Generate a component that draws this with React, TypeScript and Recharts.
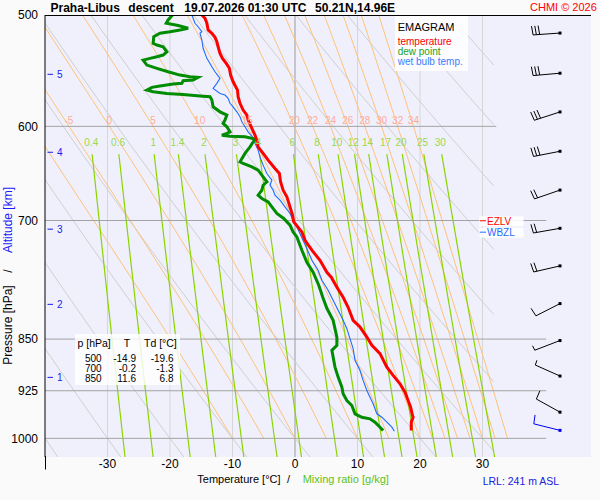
import React from "react";
import { ComposedChart, Line, Scatter, XAxis, YAxis, ReferenceArea } from "recharts";

const FONT = '"Liberation Sans", Arial, Helvetica, sans-serif';

// ─── Colours ────────────────────────────────────────────────────────────────
const C_TEMP = "#ff0000";
const C_DEW = "#008c00";
const C_WET = "#1f6bff";
const C_MIX = "#8cd400";
const C_MIX_TXT = "#9ad94a";
const C_PSEUDO = "#ffc27a";
const C_PSEUDO_TXT = "#ffab98";
const C_DRY = "#cfcfcf";
const C_ISO = "#d6d6d6";
const C_PLINE = "#a3a3a3";
const C_ALT = "#1a1aee";
const PLOT_BG = "#f0f0fc";

const T_MIN = -40;
const T_MAX = 47.36;
const P_TOP = 500;
const P_BOTTOM = 1031;

// ─── Sounding: [pressure hPa, °C] ──────────────────────────────────────────
const temperature: [number, number][] = [
  [500, -14.9], [502.7, -14.4], [506.8, -14.1], [512.4, -13.9], [515.2, -13.3], [518.6, -12.8],
  [522.4, -12.5], [526.7, -12.3], [532.4, -12.0], [536.8, -11.6], [541.2, -11.0], [545.6, -10.5],
  [551.7, -10.3], [557.8, -9.9], [565.4, -9.2], [571.6, -9.1], [577.8, -8.8], [584.2, -8.3],
  [589, -7.7], [593.9, -7.5], [602, -6.9], [608.7, -6.4], [614, -6.1], [620.4, -5.9],
  [627.2, -5.1], [634.1, -4.3], [642.8, -3.2], [648.1, -2.5], [657.1, -2.3], [666.1, -1.9],
  [673.4, -1.3], [684.6, -0.8], [693.9, -0.4], [701.6, -0.2], [713.2, 1.1], [723, 1.6],
  [734.9, 2.7], [747.1, 4.0], [761.9, 5.1], [768.1, 5.8], [780.9, 6.7], [793.7, 7.7],
  [806.8, 8.5], [824.3, 9.3], [833.4, 10.4], [847.2, 11.5], [858.8, 12.3], [870.5, 13.6],
  [889.9, 14.7], [902.1, 15.7], [914.5, 16.8], [927.2, 17.6], [939.9, 18.1], [950.3, 18.5],
  [963.3, 18.8], [966, 18.9], [973.9, 18.6], [987.3, 18.6],
];

const dewPoint: [number, number][] = [
  [500, -19.6], [504.1, -20.3], [506.8, -20.6], [508.7, -18.7], [511, -17.1], [512.4, -18.4],
  [513.9, -20.0], [515.2, -21.6], [518.1, -22.6], [523.7, -22.7], [525.2, -22.1], [526.7, -21.1],
  [531, -20.5], [533.9, -21.1], [535.4, -22.1], [536.8, -23.2], [538.3, -24.3], [542.7, -23.7],
  [545.6, -22.1], [548.7, -20.3], [551.7, -18.4], [553.2, -16.8], [553.7, -15.5], [556.2, -16.3],
  [556.8, -17.9], [559.2, -18.1], [559.9, -19.5], [561.7, -21.6], [562.9, -22.9], [565.4, -23.7],
  [567, -22.7], [568.5, -20.5], [569.4, -17.9], [570.9, -15.2], [571.6, -13.6], [574.7, -13.3],
  [581.1, -13.1], [585.9, -12.0], [589, -10.9], [593.9, -11.2], [597.1, -11.5], [600.4, -10.9],
  [605.4, -10.4], [607, -10.9], [608.7, -11.7], [609.7, -10.4], [610.4, -8.0], [612.7, -6.4],
  [620.4, -7.2], [627.2, -8.0], [635.9, -8.8], [637.6, -8.3], [641.1, -6.9], [644.6, -5.9],
  [651.7, -5.1], [657.1, -4.5], [660.7, -5.1], [666.1, -5.3], [671.6, -5.9], [675.2, -5.3],
  [679, -4.3], [684.6, -3.7], [692, -2.9], [697.7, -1.8], [705.4, -0.8], [713.2, -0.3],
  [719, 0.3], [734.9, 1.1], [749.5, 1.9], [761.9, 2.9], [778.3, 3.8], [795, 4.5],
  [808.2, 5.1], [824.3, 6.1], [847.2, 6.7], [858.8, 6.7], [865.8, 5.9], [875.4, 6.1],
  [889.9, 6.4], [904.6, 6.9], [919.6, 7.5], [929.6, 7.7], [939.9, 8.3], [947.6, 9.1],
  [960.6, 9.6], [966, 10.7], [968.5, 12.0], [973.9, 12.8], [981.9, 13.6], [987.3, 14.1],
];

const wetBulb: [number, number][] = [
  [500, -16.5], [506.8, -16.0], [509.7, -15.5], [513.9, -14.9], [515.2, -15.2], [520.9, -14.9],
  [528, -14.7], [532.4, -14.4], [536.8, -14.1], [544.2, -13.3], [548.7, -12.8], [554.6, -12.0],
  [559.2, -12.5], [563.8, -13.1], [568.5, -12.0], [570, -11.2], [573.1, -10.7], [577.8, -10.4],
  [581.1, -9.9], [585.9, -9.3], [590.7, -8.8], [595.5, -8.5], [600.4, -8.0], [605.4, -7.5],
  [612, -6.6], [617, -6.4], [623.8, -5.9], [630.7, -5.6], [639.3, -5.1], [648.1, -4.5],
  [655.3, -3.7], [660.7, -4.0], [666.1, -3.5], [671.6, -3.2], [677.1, -2.4], [684.6, -1.6],
  [692, -0.8], [699.6, -0.3], [707.4, 0.3], [715, 0.8], [731.3, 1.8], [747.1, 2.7],
  [759.4, 3.7], [771.9, 4.3], [784.7, 5.3], [797.6, 6.1], [810.9, 6.9], [824.3, 7.7],
  [835.6, 8.3], [849.4, 8.8], [863.4, 9.3], [880.1, 9.6], [894.8, 10.4], [909.5, 10.9],
  [924.6, 11.5], [934.8, 12.0], [945, 12.5], [960.6, 13.1], [966, 13.9], [973.9, 14.7],
  [981.9, 15.5], [988.4, 15.9],
];

// wind: pressure, direction (deg), speed (kt)
const winds = [
  { p: 515, dir: 266, spd: 30 }, { p: 550, dir: 265, spd: 30 }, { p: 586, dir: 252, spd: 30 },
  { p: 625, dir: 259, spd: 30 }, { p: 666, dir: 251, spd: 20 }, { p: 709, dir: 260, spd: 20 },
  { p: 754, dir: 257, spd: 20 }, { p: 802, dir: 243, spd: 10 }, { p: 852, dir: 249, spd: 5 },
  { p: 903, dir: 294, spd: 5 }, { p: 958, dir: 299, spd: 10 }, { p: 987, dir: 284, spd: 10, surface: true },
];

const altitudes = [
  { km: 5, p: 551 }, { km: 4, p: 626 }, { km: 3, p: 710 }, { km: 2, p: 803 }, { km: 1, p: 905 },
];

const levelMarks = [
  { name: "EZLV", p: 700.3, color: "#ff0000" },
  { name: "WBZL", p: 713.5, color: "#1f6bff" },
];

// ─── Diagram grid ───────────────────────────────────────────────────────────
const pressureTicks = [500, 600, 700, 850, 925, 1000];
const pressureLines = [600, 700, 850, 925, 1000];
const isotherms = [-30, -20, -10, 0, 10, 20, 30];
const dryAdiabats = [-40, -30, -20, -10, 0, 10, 20, 30, 40, 50, 60, 70, 80, 90];
const pseudoAdiabats = [-10, -5, 0, 5, 10, 15, 20, 22, 24, 26, 28, 30, 32, 34];
const pseudoLabels = [-5, 0, 5, 10, 15, 20, 22, 24, 26, 28, 30, 32, 34];
const mixingRatios = [0.4, 0.6, 1, 1.4, 2, 3, 4, 6, 8, 10, 12, 14, 17, 20, 25, 30];

const tableRows = [
  ["500", "-14.9", "-19.6"],
  ["700", "-0.2", "-1.3"],
  ["850", "11.6", "6.8"],
];

// ─── Thermodynamics for the background lines ────────────────────────────────
const RD = 287.04, CPD = 1005.7, LV = 2.501e6, EPS = 0.622, KAPPA = 0.2857;
const DRY_MAX_T = 31.8;
const MIX_TOP = 628;

const satVap = (tc: number) => 6.112 * Math.exp((17.67 * tc) / (tc + 243.5));
const moistRate = (tk: number, p: number) => {
  const e = satVap(tk - 273.15);
  const rs = (EPS * e) / (p - e);
  return (RD * tk + LV * rs) / (CPD + (LV * LV * rs * EPS) / (RD * tk * tk));
};

function pseudoAdiabat(thw: number) {
  const pts = [{ p: 1000, t: thw }];
  let tk = thw + 273.15;
  for (let p = 1000; p > 500; p -= 25) {
    const n = 4;
    let lnp = Math.log(p);
    const h = (Math.log(p - 25) - lnp) / n;
    for (let i = 0; i < n; i++) {
      const k1 = moistRate(tk, Math.exp(lnp));
      const k2 = moistRate(tk + (h * k1) / 2, Math.exp(lnp + h / 2));
      const k3 = moistRate(tk + (h * k2) / 2, Math.exp(lnp + h / 2));
      const k4 = moistRate(tk + h * k3, Math.exp(lnp + h));
      tk += (h * (k1 + 2 * k2 + 2 * k3 + k4)) / 6;
      lnp += h;
    }
    pts.push({ p: p - 25, t: tk - 273.15 });
  }
  return pts;
}

function dryAdiabat(th: number) {
  const thk = th + 273.15;
  const pEnd = Math.min(P_BOTTOM, 1000 * Math.pow((DRY_MAX_T + 273.15) / thk, 1 / KAPPA));
  if (pEnd <= P_TOP) return [];
  const pts = [];
  const n = 16;
  for (let i = 0; i <= n; i++) {
    const p = P_TOP * Math.pow(pEnd / P_TOP, i / n);
    pts.push({ p, t: thk * Math.pow(p / 1000, KAPPA) - 273.15 });
  }
  return pts;
}

const mixingT = (w: number, p: number) => {
  const x = Math.log((w * p) / (622 + w) / 6.112);
  return (243.5 * x) / (17.67 - x);
};
function mixingLine(w: number) {
  const pts = [];
  const n = 6;
  for (let i = 0; i <= n; i++) {
    const p = MIX_TOP * Math.pow(P_BOTTOM / MIX_TOP, i / n);
    pts.push({ p, t: mixingT(w, p) });
  }
  return pts;
}

const pseudoLines = pseudoAdiabats.map((th) => ({ th, pts: pseudoAdiabat(th) }));
const pseudoLabelData = pseudoLabels.map((th) => {
  const line = pseudoLines.find((l) => l.th === th)!;
  const at600 = line.pts.find((d) => d.p === 600)!;
  return { t: at600.t, p: 600, label: String(th) };
});
const mixingLabelData = mixingRatios.map((w) => ({ t: mixingT(w, 620), p: 620, label: String(w) }));

const toPts = (rows: [number, number][]) => rows.map(([p, t]) => ({ p, t }));

// ─── Shapes ─────────────────────────────────────────────────────────────────
function WindBarb(props: any) {
  const { cx, cy, payload } = props;
  if (cx == null || cy == null) return null;
  const col = payload.surface ? "#0000ee" : "#000000";
  const a = (payload.dir * Math.PI) / 180;
  const ux = Math.sin(a);
  const uy = -Math.cos(a);
  const len = 27;
  const tipX = cx + ux * len;
  const tipY = cy + uy * len;
  const tilt = (6 * Math.PI) / 180;
  const vx = -uy * Math.cos(tilt) + ux * Math.sin(tilt);
  const vy = ux * Math.cos(tilt) + uy * Math.sin(tilt);
  const parts = [<line key="staff" x1={cx} y1={cy} x2={tipX} y2={tipY} />];
  let rest = payload.spd;
  let off = 0;
  let i = 0;
  while (rest >= 10) {
    const bx = tipX - ux * off;
    const by = tipY - uy * off;
    parts.push(<line key={i++} x1={bx} y1={by} x2={bx + vx * 9} y2={by + vy * 9} />);
    off += 3.3;
    rest -= 10;
  }
  if (rest >= 5) {
    const bx = tipX - ux * off;
    const by = tipY - uy * off;
    parts.push(<line key="half" x1={bx} y1={by} x2={bx + vx * 5} y2={by + vy * 5} />);
  }
  return (
    <g stroke={col} strokeWidth={1} fill="none">
      {parts}
      <rect x={cx - 1.5} y={cy - 1.5} width={3} height={3} fill={col} stroke="none" />
    </g>
  );
}

function AltitudeMark(props: any) {
  const { cx, cy, payload } = props;
  return (
    <g>
      <line x1={cx + 2.5} y1={cy} x2={cx + 8} y2={cy} stroke={C_ALT} strokeWidth={1} />
      <text x={cx + 12} y={cy + 3.5} fontSize={10} fill={C_ALT} fontFamily={FONT}>{payload.km}</text>
    </g>
  );
}

function LevelMark(props: any) {
  const { cx, cy, payload } = props;
  return (
    <g>
      <rect x={cx - 0.5} y={cy - 4.5} width={44} height={10} fill="#ffffff" fillOpacity={0.9} />
      <line x1={cx} y1={cy} x2={cx + 6} y2={cy} stroke={payload.color} strokeWidth={1} />
      <text x={cx + 7} y={cy + 4} fontSize={10} fill={payload.color} fontFamily={FONT}>{payload.name}</text>
    </g>
  );
}

const PseudoLabel = (props: any) => (
  <text x={props.cx} y={props.cy - 2.5} textAnchor="middle" fontSize={10} fill={C_PSEUDO_TXT} fontFamily={FONT}>
    {props.payload.label}
  </text>
);
const MixLabel = (props: any) => (
  <text x={props.cx} y={props.cy} textAnchor="middle" fontSize={10} fill={C_MIX_TXT} fontFamily={FONT}>
    {props.payload.label}
  </text>
);

// ─── Chart ──────────────────────────────────────────────────────────────────
export default function App() {
  const thin = { dot: false, activeDot: false, isAnimationActive: false, strokeWidth: 1 } as const;
  return (
    <div style={{ position: "relative", width: 600, height: 500, fontFamily: FONT }}>
      <style>{"body{margin:0;background:#fafafa}"}</style>
      <ComposedChart width={600} height={500} margin={{ top: 15, right: 9, bottom: 13, left: 0 }}>
        <XAxis
          type="number"
          dataKey="t"
          domain={[T_MIN, T_MAX]}
          allowDataOverflow
          ticks={isotherms}
          interval={0}
          height={30}
          axisLine={false}
          tickLine={false}
          tickSize={0}
          tickMargin={2}
          tick={{ fontSize: 12, fill: "#000", fontFamily: FONT }}
        />
        <YAxis
          type="number"
          dataKey="p"
          scale="log"
          domain={[P_TOP, P_BOTTOM]}
          reversed
          allowDataOverflow
          ticks={pressureTicks}
          interval={0}
          width={45}
          axisLine={{ stroke: "#000" }}
          tickLine={false}
          tickSize={0}
          tickMargin={7}
          tick={{ fontSize: 12, fill: "#000", fontFamily: FONT }}
        />
        <ReferenceArea x1={T_MIN} x2={T_MAX} y1={P_TOP} y2={P_BOTTOM} fill={PLOT_BG} fillOpacity={1} stroke="none" />

        {isotherms.map((t) => (
          <Line key={`iso${t}`} data={[{ t, p: P_TOP }, { t, p: P_BOTTOM }]} dataKey="p"
            stroke={t === 0 ? "#9a9a9a" : C_ISO} {...thin} />
        ))}
        {dryAdiabats.map((th) => (
          <Line key={`dry${th}`} data={dryAdiabat(th)} dataKey="p" stroke={C_DRY} {...thin} />
        ))}
        {pseudoLines.map((l) => (
          <Line key={`ps${l.th}`} data={l.pts} dataKey="p" stroke={C_PSEUDO} {...thin} />
        ))}
        {mixingRatios.map((w) => (
          <Line key={`mix${w}`} data={mixingLine(w)} dataKey="p" stroke={C_MIX} {...thin} strokeWidth={1.2} />
        ))}
        {pressureLines.map((p) => (
          <Line key={`pl${p}`} data={[{ t: T_MIN, p }, { t: p === 600 ? 32.2 : 40.2, p }]} dataKey="p"
            stroke={C_PLINE} {...thin} />
        ))}

        <Line data={toPts(wetBulb)} dataKey="p" stroke={C_WET} {...thin} strokeWidth={1.1} />
        <Line data={toPts(dewPoint)} dataKey="p" stroke={C_DEW} {...thin} strokeWidth={3} />
        <Line data={toPts(temperature)} dataKey="p" stroke={C_TEMP} {...thin} strokeWidth={3} />

        <Scatter data={pseudoLabelData} shape={PseudoLabel} isAnimationActive={false} />
        <Scatter data={mixingLabelData} shape={MixLabel} isAnimationActive={false} />
        <Scatter data={altitudes.map((a) => ({ ...a, t: T_MIN }))} shape={AltitudeMark} isAnimationActive={false} />
        <Scatter data={levelMarks.map((m) => ({ ...m, t: 29.6 }))} shape={LevelMark} isAnimationActive={false} />
        <Scatter data={winds.map((w) => ({ ...w, t: 42.4 }))} shape={WindBarb} isAnimationActive={false} />
      </ComposedChart>

      <svg width={600} height={500} style={{ position: "absolute", left: 0, top: 0, pointerEvents: "none" }}
        fontFamily={FONT}>
        {/* title */}
        <g fontSize={12} fontWeight="bold" fill="#000">
          <text x={50.5} y={11.5}>Praha-Libus</text>
          <text x={128.3} y={11.5}>descent</text>
          <text x={184.3} y={11.5}>19.07.2026 01:30 UTC</text>
          <text x={315} y={11.5}>50.21N,14.96E</text>
        </g>
        <text x={530} y={11} fontSize={11} fill="#ff0000">CHMI © 2026</text>
        <line x1={45} y1={15.5} x2={591} y2={15.5} stroke="#000" strokeWidth={1} />
        <line x1={45.5} y1={456} x2={45.5} y2={469.5} stroke="#000" strokeWidth={1} />

        {/* legend */}
        <rect x={395} y={16} width={73} height={55} fill="#ffffff" fillOpacity={0.85} />
        <text x={397.7} y={30.5} fontSize={11} fill="#000">EMAGRAM</text>
        <text x={397.7} y={45} fontSize={10} fill="#ff0000">temperature</text>
        <text x={397.7} y={54.5} fontSize={10} fill="#22a022">dew point</text>
        <text x={397.7} y={64.5} fontSize={10} fill="#3a7cff">wet bulb temp.</text>

        {/* table */}
        <rect x={75} y={334} width={105} height={51} fill="#ffffff" fillOpacity={0.82} />
        <g fontSize={10.5} fill="#000">
          <text x={77.5} y={346.5}>p [hPa]</text>
          <text x={127} y={346.5} textAnchor="middle">T</text>
          <text x={144} y={346.5}>Td [°C]</text>
        </g>
        <g fontSize={10} fill="#000">
          {tableRows.map((r, i) => (
            <g key={r[0]}>
              <text x={101.7} y={361.7 + i * 10} textAnchor="end">{r[0]}</text>
              <text x={136} y={361.7 + i * 10} textAnchor="end">{r[1]}</text>
              <text x={173.5} y={361.7 + i * 10} textAnchor="end">{r[2]}</text>
            </g>
          ))}
        </g>

        {/* axis titles */}
        <g fontSize={12}>
          <text transform="translate(12,325) rotate(-90)" textAnchor="middle" fill="#000">Pressure [hPa]</text>
          <text transform="translate(12,271) rotate(-90)" textAnchor="middle" fill="#000">/</text>
          <text transform="translate(12,220) rotate(-90)" textAnchor="middle" fill="#1a1aff">Altitude [km]</text>
        </g>
        <text x={197.3} y={482.5} fontSize={11} fill="#000">Temperature [°C]</text>
        <text x={287} y={482.5} fontSize={11} fill="#000">/</text>
        <text x={302.7} y={482.5} fontSize={11} fill="#5cc21a">Mixing ratio [g/kg]</text>
        <text x={482.7} y={485.3} fontSize={10.5} fill="#2020dd">LRL: 241 m ASL</text>
      </svg>
    </div>
  );
}
